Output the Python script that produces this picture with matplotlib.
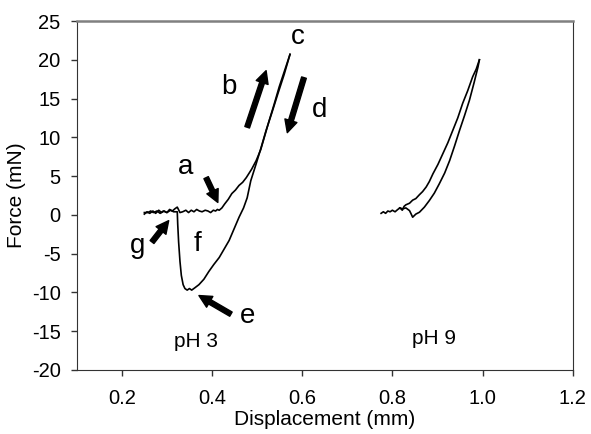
import matplotlib
matplotlib.use("Agg")
import matplotlib.pyplot as plt

plt.rcParams["font.family"] = ["Liberation Sans", "DejaVu Sans"]
plt.rcParams["axes.unicode_minus"] = False

# ---------- DATA ----------
# pH 3, approach
ph3_app_x = [0.250, 0.256, 0.262, 0.269, 0.275, 0.282, 0.288, 0.294, 0.300, 0.306,
             0.312, 0.318, 0.323, 0.329, 0.335, 0.342, 0.348, 0.354, 0.360, 0.366,
             0.372, 0.378, 0.385, 0.391, 0.397, 0.403, 0.408, 0.412, 0.416, 0.422,
             0.428, 0.436, 0.444, 0.452, 0.460, 0.468, 0.476, 0.488, 0.498, 0.508,
             0.516, 0.527, 0.538, 0.549, 0.561, 0.573]
ph3_app_y = [0.1, 0.4, 0.2, 0.5, 0.2, 0.6, 0.3, 0.5, 0.3, 0.7,
             0.5, 0.8, 1.0, 0.3, 0.4, 0.6, 0.3, 0.6, 0.4, 0.7,
             0.5, 0.4, 0.6, 0.5, 0.3, 0.6, 0.5, 0.7, 0.6, 0.9,
             1.4, 2.0, 2.75, 3.2, 3.8, 4.2, 4.8, 5.9, 7.0, 8.4,
             10.0, 12.2, 14.3, 16.5, 18.6, 20.7]

# pH 3, retract
ph3_ret_x = [0.573, 0.560, 0.546, 0.533, 0.520, 0.509, 0.498, 0.486, 0.478, 0.470,
             0.460, 0.449, 0.438, 0.427, 0.416, 0.404, 0.393, 0.382, 0.371, 0.362,
             0.355, 0.350, 0.345, 0.340, 0.336, 0.332, 0.329, 0.326, 0.324, 0.323,
             0.315, 0.308, 0.300, 0.292, 0.285, 0.278, 0.270, 0.264, 0.258, 0.250]
ph3_ret_y = [20.7, 18.1, 15.6, 13.2, 10.9, 8.7, 6.6, 4.4, 2.2, 0.9,
             -0.3, -1.8, -3.3, -4.4, -5.5, -6.4, -7.3, -8.3, -9.0, -9.4,
             -9.7, -9.5, -9.7, -9.5, -9.0, -7.8, -6.0, -3.5, -1.2, 0.4,
             0.4, 0.6, 0.3, 0.5, 0.2, 0.5, 0.3, 0.5, 0.3, 0.3]

# pH 9, approach
ph9_app_x = [0.775, 0.780, 0.785, 0.790, 0.795, 0.800, 0.806, 0.812, 0.817, 0.822,
             0.826, 0.830, 0.838, 0.845, 0.852, 0.860, 0.867, 0.875, 0.882, 0.890,
             0.901, 0.912, 0.923, 0.934, 0.945, 0.956, 0.967, 0.978, 0.986, 0.993]
ph9_app_y = [0.2, 0.4, 0.2, 0.5, 0.4, 0.6, 0.4, 0.7, 0.9, 0.6,
             1.1, 1.3, 1.5, 1.9, 2.1, 2.6, 3.0, 3.6, 4.3, 5.3,
             6.5, 7.9, 9.3, 10.9, 12.5, 14.4, 16.0, 17.8, 18.8, 20.0]

# pH 9, retract
ph9_ret_x = [0.993, 0.990, 0.981, 0.971, 0.960, 0.949, 0.938, 0.927, 0.916, 0.904,
             0.893, 0.882, 0.871, 0.860, 0.852, 0.845, 0.841, 0.838, 0.830, 0.823,
             0.816]
ph9_ret_y = [20.0, 19.1, 17.0, 14.8, 12.8, 10.9, 8.9, 7.0, 5.4, 4.0,
             2.8, 1.85, 1.0, 0.34, 0.1, -0.3, 0.2, 0.55, 0.9, 0.78,
             0.9]

# letter labels and their arrows (tail x, tail y, head x, head y)
letters = ["a", "b", "c", "d", "e", "f", "g"]
letter_x = [0.342, 0.438, 0.590, 0.638, 0.478, 0.367, 0.234]
letter_y = [6.2, 16.5, 23.0, 13.5, -13.0, -3.75, -4.0]
arrows = [
    (0.387, 4.8, 0.413, 1.6),     # a
    (0.478, 11.3, 0.520, 18.6),   # b
    (0.604, 17.7, 0.567, 10.6),   # d
    (0.442, -12.8, 0.371, -10.4), # e
    (0.267, -3.5, 0.304, -0.74),  # g
]

# ---------- PLOT ----------
fig = plt.figure(figsize=(5.91, 4.34), dpi=100)
ax = fig.add_axes([0.1298, 0.1475, 0.8393, 0.8041])

for xs, ys in [(ph3_app_x, ph3_app_y), (ph3_ret_x, ph3_ret_y),
               (ph9_app_x, ph9_app_y), (ph9_ret_x, ph9_ret_y)]:
    ax.plot(xs, ys, color="black", lw=1.2)

for t, x, y in zip(letters, letter_x, letter_y):
    ax.text(x, y, t, fontsize=20, ha="center", va="center")

for x0, y0, x1, y1 in arrows:
    ax.annotate("", xy=(x1, y1), xytext=(x0, y0),
                arrowprops=dict(arrowstyle="simple,head_width=0.9,head_length=0.9,tail_width=0.35",
                                mutation_scale=10, color="black", shrinkA=0, shrinkB=0))

ax.text(0.364, -16.3, "pH 3", fontsize=15, ha="center", va="center")
ax.text(0.893, -16.0, "pH 9", fontsize=15, ha="center", va="center")

ax.set_xlim(0.1, 1.2)
ax.set_ylim(-20, 25)
ax.set_xticks([0.2, 0.4, 0.6, 0.8, 1.0, 1.2])
ax.set_xticklabels(["0.2", "0.4", "0.6", "0.8", "1.0", "1.2"])
ax.set_yticks(range(-20, 26, 5))
ax.tick_params(labelsize=14.5, direction="out", length=4, width=1, color="#333333")
ax.tick_params(axis="x", pad=10)
ax.tick_params(axis="y", pad=7.5)
ax.set_xlabel("Displacement (mm)", fontsize=15, labelpad=1)
ax.set_ylabel("Force (mN)", fontsize=15, labelpad=4)

for side in ["left", "right", "bottom"]:
    ax.spines[side].set_color("#333333")
ax.spines["top"].set_color("#808080")
ax.spines["top"].set_linewidth(1.8)

fig.savefig("out.png", dpi=100)
